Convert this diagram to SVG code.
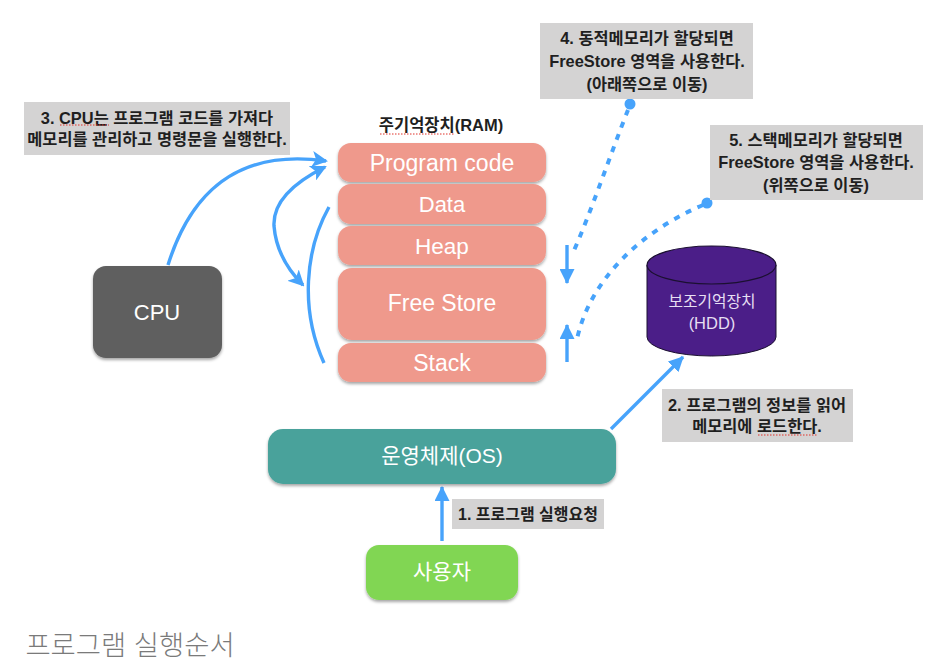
<svg xmlns="http://www.w3.org/2000/svg" width="946" height="670" viewBox="0 0 946 670">
  <style>
    text { font-family: "Liberation Sans", "Noto Sans CJK KR", sans-serif; text-anchor: middle; }
    .note { fill: #d4d3d3; }
    .note-text { font-size: 16.4px; font-weight: 700; fill: #1f1f1f; }
    .node-text { font-size: 23px; fill: #ffffff; }
    .ram { fill: #ef998c; filter: url(#shadow); }
    .flow { fill: none; stroke: #47a3fb; stroke-width: 3.4; }
    .dash { fill: none; stroke: #47a3fb; stroke-width: 4; stroke-dasharray: 6 7; }
    .spell { fill: none; stroke: #e0332b; stroke-width: 1; stroke-dasharray: 1.5 1.5; }
  </style>
  <defs>
    <filter id="shadow" x="-10%" y="-15%" width="120%" height="135%">
      <feDropShadow dx="0" dy="2" stdDeviation="1.6" flood-color="#000000" flood-opacity="0.35"/>
    </filter>
    <marker id="head" viewBox="0 0 16 16" refX="14" refY="8" markerWidth="16" markerHeight="16" markerUnits="userSpaceOnUse" orient="auto-start-reverse">
      <path d="M0 0 L16 8 L0 16 L4 8 Z" fill="#47a3fb"/>
    </marker>
    <marker id="solid" viewBox="0 0 14 14" refX="13" refY="7" markerWidth="15" markerHeight="15" markerUnits="userSpaceOnUse" orient="auto">
      <path d="M0 0 L14 7 L0 14 Z" fill="#47a3fb"/>
    </marker>
  </defs>

  <rect width="946" height="670" fill="#ffffff"/>

  <!-- Arrows between the parts; dashed leaders run from the two memory notes -->
  <g id="connectors">
    <path class="flow" marker-end="url(#head)" d="M168 265 C190 195 235 148 326 161"/>
    <path class="flow" marker-start="url(#head)" marker-end="url(#head)" d="M303 285 C288 270 276 250 274 226 C273 207 285 187 325 167"/>
    <path class="flow" d="M329 207 C305 250 300 310 324 363"/>
    <path class="flow" marker-end="url(#solid)" d="M567 245 V283"/>
    <path class="flow" marker-end="url(#solid)" d="M567 362 V325"/>
    <path class="flow" marker-end="url(#solid)" d="M611 429 L683 357"/>
    <path class="flow" marker-end="url(#solid)" d="M442 541 V487"/>
    <path class="dash" d="M628 110 C612 150 590 215 572 255"/>
    <path class="dash" d="M703 205 C640 232 590 280 577 339"/>
    <circle cx="630" cy="104" r="5.500" fill="#47a3fb"/>
    <circle cx="707" cy="203" r="5.500" fill="#47a3fb"/>
  </g>

  <g id="ram-label">
    <text x="441" y="131" font-size="16.500" font-weight="700" fill="#1f1f1f">주기억장치(RAM)</text>
    <path class="spell" d="M380 134 H455"/>
  </g>
  <g id="program-code">
    <rect class="ram" x="338" y="143" width="208" height="39" rx="13"/>
    <text class="node-text" x="442" y="171">Program code</text>
  </g>
  <g id="data">
    <rect class="ram" x="338" y="184" width="208" height="40" rx="13"/>
    <text class="node-text" x="442" y="212" style="font-size:22px">Data</text>
  </g>
  <g id="heap">
    <rect class="ram" x="338" y="226" width="208" height="39" rx="13"/>
    <text class="node-text" x="442" y="254" style="font-size:22.500px">Heap</text>
  </g>
  <g id="free-store">
    <rect class="ram" x="338" y="268" width="208" height="72" rx="14"/>
    <text class="node-text" x="442" y="311">Free Store</text>
  </g>
  <g id="stack">
    <rect class="ram" x="338" y="343" width="208" height="39" rx="13"/>
    <text class="node-text" x="442" y="371">Stack</text>
  </g>

  <g id="cpu">
    <rect x="93" y="266" width="129" height="92" rx="13" fill="#5e5e5e" filter="url(#shadow)"/>
    <text class="node-text" x="157" y="320" style="font-size:22px">CPU</text>
  </g>

  <g id="hdd">
    <path d="M647 265 V337 A64.500 19 0 0 0 776 337 V265 Z" fill="#4b1e88" stroke="#1b1030" stroke-width="1"/>
    <ellipse cx="711.500" cy="265" rx="64.500" ry="19" fill="#4b1e88" stroke="#1b1030" stroke-width="1.200"/>
    <text x="712" y="307" font-size="15.800" fill="#e6dff2">보조기억장치</text>
    <text x="712" y="329" font-size="16.500" fill="#e6dff2">(HDD)</text>
  </g>

  <g id="os">
    <rect x="268" y="429" width="348" height="55" rx="15" fill="#4aa29b" filter="url(#shadow)"/>
    <text x="442" y="463" font-size="21" fill="#ffffff">운영체제(OS)</text>
  </g>

  <g id="user">
    <rect x="366" y="545" width="152" height="55" rx="13" fill="#81d653" filter="url(#shadow)"/>
    <text x="442" y="579" font-size="21" fill="#ffffff">사용자</text>
  </g>

  <g id="note-1">
    <rect class="note" x="452" y="499" width="152" height="30"/>
    <text class="note-text" x="528" y="520" style="font-size:16px">1. 프로그램 실행요청</text>
  </g>
  <g id="note-2">
    <rect class="note" x="662" y="389" width="191" height="53"/>
    <text class="note-text" x="757" y="411">2. 프로그램의 정보를 읽어</text>
    <text class="note-text" x="757" y="432">메모리에 로드한다.</text>
    <path class="spell" d="M758 435 H817"/>
  </g>
  <g id="note-3">
    <rect class="note" x="24" y="102" width="266" height="53"/>
    <text class="note-text" x="157" y="124">3. CPU는 프로그램 코드를 가져다</text>
    <text class="note-text" x="157" y="145">메모리를 관리하고 명령문을 실행한다.</text>
    <path class="spell" d="M60 125 H109"/>
  </g>
  <g id="note-4">
    <rect class="note" x="540" y="23" width="213" height="76"/>
    <text class="note-text" x="647" y="44">4. 동적메모리가 할당되면</text>
    <text class="note-text" x="647" y="67">FreeStore 영역을 사용한다.</text>
    <text class="note-text" x="647" y="90">(아래쪽으로 이동)</text>
  </g>
  <g id="note-5">
    <rect class="note" x="710" y="125" width="213" height="75"/>
    <text class="note-text" x="816" y="146">5. 스택메모리가 할당되면</text>
    <text class="note-text" x="816" y="168">FreeStore 영역을 사용한다.</text>
    <text class="note-text" x="816" y="191">(위쪽으로 이동)</text>
  </g>

  <text x="130" y="655" font-size="27.400" fill="#7a7a7a" font-weight="300">프로그램 실행순서</text>
</svg>
